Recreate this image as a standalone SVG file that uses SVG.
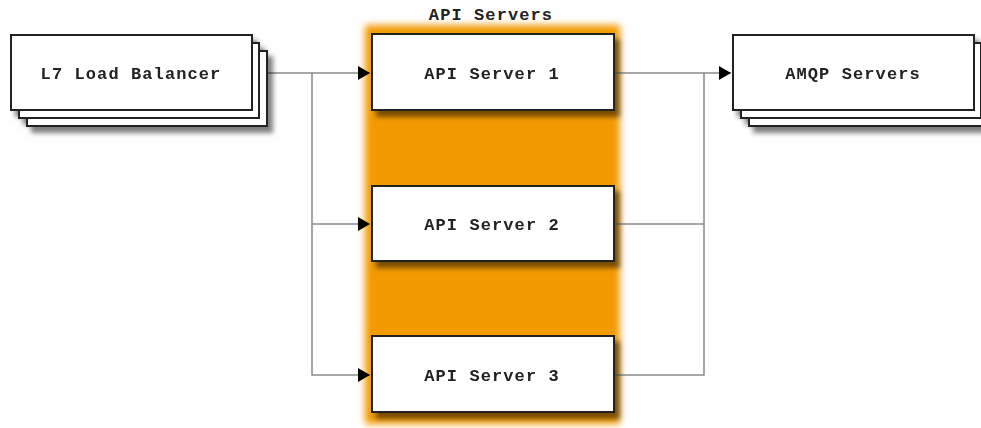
<svg xmlns="http://www.w3.org/2000/svg" width="981" height="428" viewBox="0 0 981 428">
<defs>
<filter id="glow" x="-20%" y="-20%" width="140%" height="140%"><feGaussianBlur stdDeviation="3.5"/></filter>
<filter id="shadow" x="-10%" y="-10%" width="130%" height="140%"><feDropShadow dx="5" dy="6" stdDeviation="2.5" flood-color="#000" flood-opacity="0.5"/></filter>
<marker id="arr" viewBox="0 0 12 14" refX="12" refY="7" markerWidth="12" markerHeight="14" markerUnits="userSpaceOnUse" orient="auto"><path d="M0,0 L12,7 L0,14 Z" fill="#000"/></marker>
</defs>
<style>
.box{fill:#fff;stroke:#222;stroke-width:2}
.t{font-family:"Liberation Mono","DejaVu Sans Mono",monospace;font-weight:bold;font-size:17px;letter-spacing:1.1px;fill:#222;text-anchor:middle}
.c{fill:none;stroke:#8a8a8a;stroke-width:1.5}
</style>
<rect width="981" height="428" fill="#fff"/>
<g id="api-servers-group">
<rect x="365" y="25" width="255" height="399" fill="#f29a00" filter="url(#glow)"/>
<text class="t" x="491" y="20">API Servers</text>
</g>
<g id="connectors">
<path class="c" d="M268,73 H370" marker-end="url(#arr)"/>
<path class="c" d="M312,73 V224 H370" marker-end="url(#arr)"/>
<path class="c" d="M312,224 V375 H370" marker-end="url(#arr)"/>
<path class="c" d="M614,73 H731" marker-end="url(#arr)"/>
<path class="c" d="M614,224 H704 V73 M614,375 H704 V224"/>
</g>
<g id="lb" filter="url(#shadow)">
<rect class="box" x="27" y="51" width="240" height="75"/>
<rect class="box" x="19" y="43" width="240" height="75"/>
<rect class="box" x="11" y="35" width="241" height="75"/>
<text class="t" x="131" y="79">L7 Load Balancer</text>
</g>
<g id="api1" filter="url(#shadow)">
<rect class="box" x="372" y="34" width="242" height="76"/>
<text class="t" x="492" y="79">API Server 1</text>
</g>
<g id="api2" filter="url(#shadow)">
<rect class="box" x="372" y="186" width="242" height="75"/>
<text class="t" x="492" y="230">API Server 2</text>
</g>
<g id="api3" filter="url(#shadow)">
<rect class="box" x="372" y="336" width="242" height="76"/>
<text class="t" x="492" y="381">API Server 3</text>
</g>
<g id="amqp" filter="url(#shadow)">
<rect class="box" x="749" y="51" width="240" height="75"/>
<rect class="box" x="741" y="43" width="240" height="75"/>
<rect class="box" x="733" y="35" width="241" height="75"/>
<text class="t" x="853" y="79">AMQP Servers</text>
</g>
</svg>
